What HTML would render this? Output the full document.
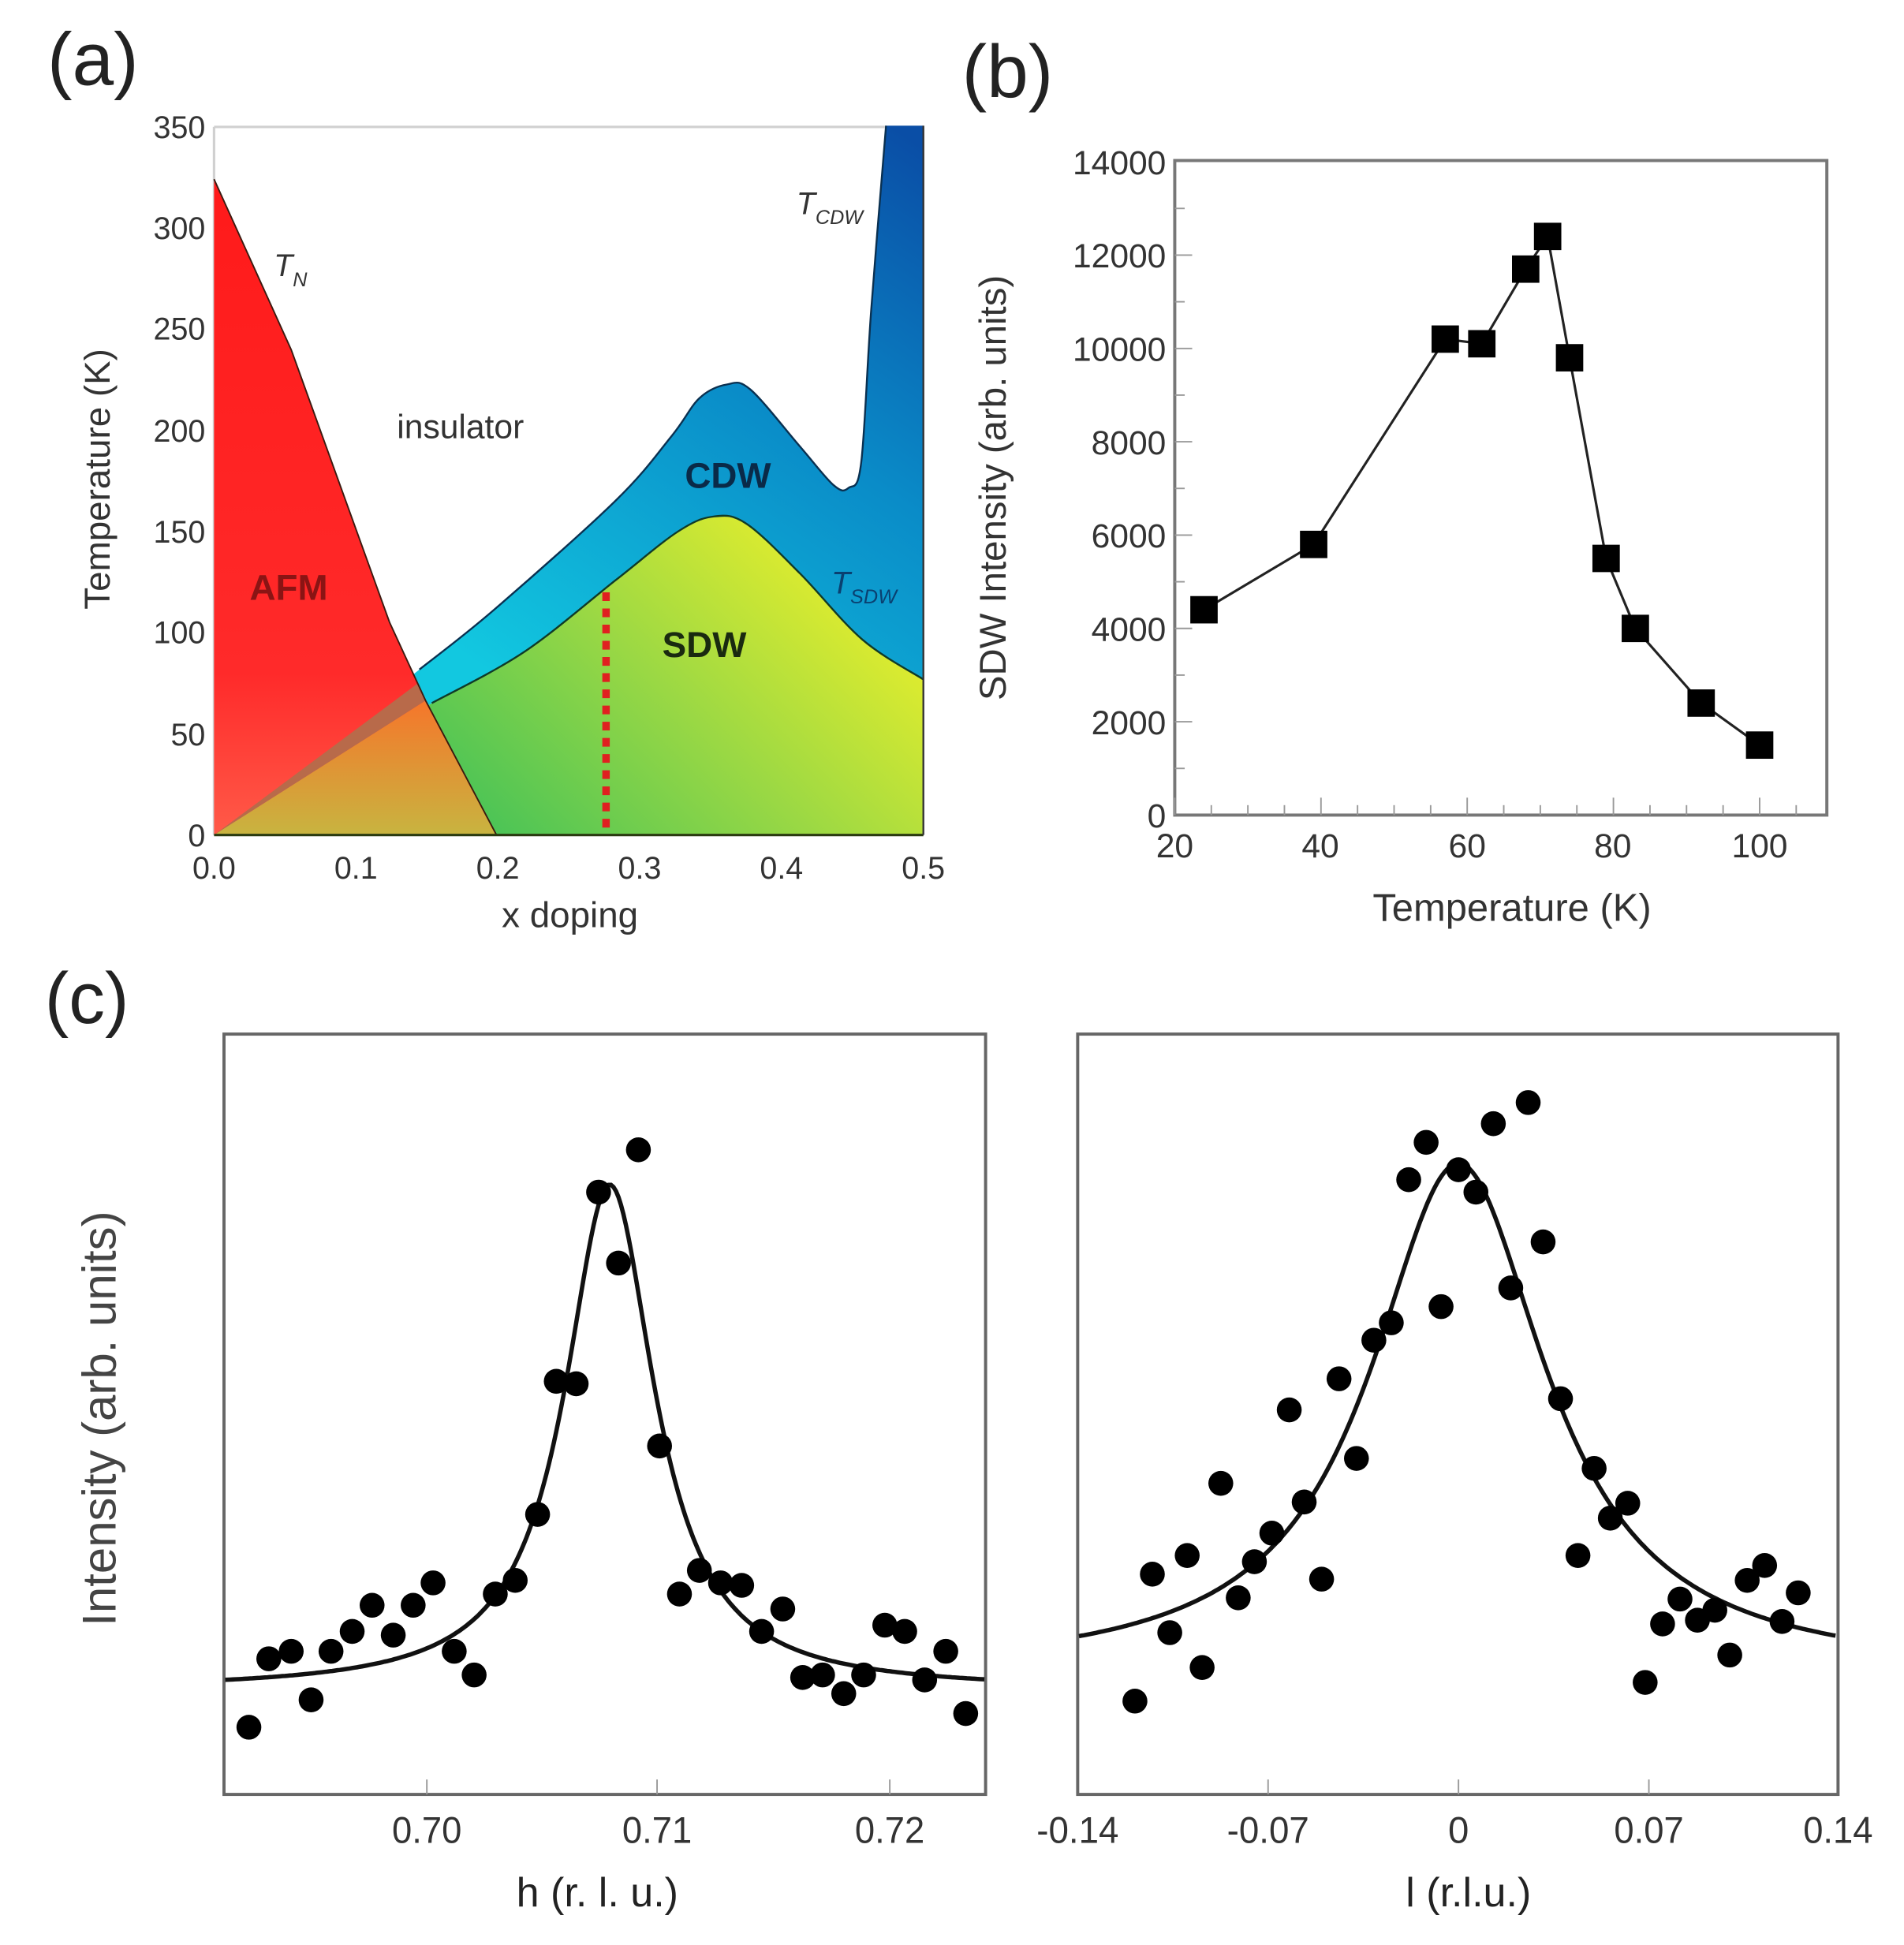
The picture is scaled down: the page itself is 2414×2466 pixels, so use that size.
<!DOCTYPE html>
<html><head><meta charset="utf-8">
<style>html,body{margin:0;padding:0;background:#fff}svg{display:block}</style>
</head><body>
<svg id="s" xmlns="http://www.w3.org/2000/svg" width="2414" height="2466" viewBox="0 0 1530 1563" preserveAspectRatio="none" font-family="Liberation Sans, Arial, sans-serif">
<defs>
<linearGradient id="gG" gradientUnits="userSpaceOnUse" x1="400" y1="671" x2="650" y2="420">
<stop offset="0" stop-color="#4cc456"/><stop offset="0.5" stop-color="#9ad844"/><stop offset="1" stop-color="#e6ee2c"/></linearGradient>
<linearGradient id="gB" gradientUnits="userSpaceOnUse" x1="730" y1="110" x2="420" y2="560">
<stop offset="0" stop-color="#0a4ea6"/><stop offset="0.45" stop-color="#0a8cc8"/><stop offset="1" stop-color="#12c8e0"/></linearGradient>
<linearGradient id="gR" gradientUnits="userSpaceOnUse" x1="0" y1="150" x2="0" y2="671">
<stop offset="0" stop-color="#ff1a1a"/><stop offset="0.75" stop-color="#ff2a2a"/><stop offset="1" stop-color="#ff5a48"/></linearGradient>
<linearGradient id="gO" gradientUnits="userSpaceOnUse" x1="0" y1="560" x2="0" y2="671">
<stop offset="0" stop-color="#f7742a"/><stop offset="1" stop-color="#c8b440"/></linearGradient>
</defs>
<rect width="1530" height="1563" fill="#fff"/>

<!-- Panel a -->
<text x="38" y="68" font-size="60" fill="#222">(a)</text>
<polyline points="172,102 742,102" stroke="#d0d0d0" stroke-width="2" fill="none"/>
<line x1="172" y1="102" x2="172" y2="671" stroke="#d0d0d0" stroke-width="2"/>
<path id="pG" fill="url(#gG)"/>
<path id="pB" fill="url(#gB)"/>
<polygon fill="url(#gR)" points="172,144 234,281 313,500 342,563 399,671 172,671"/>
<polygon fill="#b86a4a" points="172,671 336,549 342,563"/>
<polygon fill="url(#gO)" points="172,671 342,563 399,671"/>
<polyline fill="none" stroke="#3a1a10" stroke-width="1.2" points="172,144 234,281 313,500 342,563 399,671"/>
<path id="lC" fill="none" stroke="#0a3050" stroke-width="1.5"/>
<path id="lS" fill="none" stroke="#103a28" stroke-width="1.5"/>
<line x1="172" y1="671" x2="742" y2="671" stroke="#2a3a10" stroke-width="2"/>
<line x1="742" y1="101" x2="742" y2="671" stroke="#333" stroke-width="1.5"/>
<line x1="487" y1="476" x2="487" y2="671" stroke="#e02020" stroke-width="6" stroke-dasharray="7,6"/>
<g font-size="25" fill="#333" text-anchor="end">
<text x="165" y="680">0</text><text x="165" y="599">50</text><text x="165" y="517">100</text><text x="165" y="436">150</text><text x="165" y="355">200</text><text x="165" y="273">250</text><text x="165" y="192">300</text><text x="165" y="111">350</text>
</g>
<g font-size="25" fill="#333" text-anchor="middle">
<text x="172" y="706">0.0</text><text x="286" y="706">0.1</text><text x="400" y="706">0.2</text><text x="514" y="706">0.3</text><text x="628" y="706">0.4</text><text x="742" y="706">0.5</text>
</g>
<text x="458" y="745" font-size="29" fill="#333" text-anchor="middle">x doping</text>
<text transform="translate(88,385) rotate(-90)" font-size="29" fill="#333" text-anchor="middle">Temperature (K)</text>
<text x="220" y="222" font-size="25" font-style="italic" fill="#333">T<tspan font-size="16" dy="8">N</tspan></text>
<text x="370" y="352" font-size="27" fill="#333" text-anchor="middle">insulator</text>
<text x="232" y="482" font-size="29" font-weight="bold" fill="#8a1414" text-anchor="middle">AFM</text>
<text x="585" y="392" font-size="29" font-weight="bold" fill="#0a2a48" text-anchor="middle">CDW</text>
<text x="566" y="528" font-size="29" font-weight="bold" fill="#1a2a10" text-anchor="middle">SDW</text>
<text x="640" y="172" font-size="25" font-style="italic" fill="#333">T<tspan font-size="16" dy="8">CDW</tspan></text>
<text x="668" y="477" font-size="25" font-style="italic" fill="#0a4070">T<tspan font-size="16" dy="8">SDW</tspan></text>

<!-- Panel b -->
<text x="773" y="78" font-size="60" fill="#222">(b)</text>
<rect x="944" y="129" width="524" height="526" fill="none" stroke="#777" stroke-width="2.5"/>
<g id="bt" stroke="#999" stroke-width="1.2"></g>
<g font-size="27" fill="#333" text-anchor="end">
<text x="937" y="665">0</text><text x="937" y="590">2000</text><text x="937" y="515">4000</text><text x="937" y="440">6000</text><text x="937" y="365">8000</text><text x="937" y="290">10000</text><text x="937" y="215">12000</text><text x="937" y="140">14000</text>
</g>
<g font-size="27" fill="#333" text-anchor="middle">
<text x="944" y="689">20</text><text x="1061" y="689">40</text><text x="1179" y="689">60</text><text x="1296" y="689">80</text><text x="1414" y="689">100</text>
</g>
<text x="1215" y="740" font-size="31" fill="#333" text-anchor="middle">Temperature (K)</text>
<text transform="translate(808,392) rotate(-90)" font-size="30" fill="#333" text-anchor="middle">SDW Intensity (arb. units)</text>
<g id="bd"></g>

<!-- Panel c -->
<text x="36" y="822" font-size="58" fill="#222">(c)</text>
<rect x="180" y="831" width="612" height="611" fill="none" stroke="#666" stroke-width="2.5"/>
<rect x="866" y="831" width="611" height="611" fill="none" stroke="#666" stroke-width="2.5"/>
<g stroke="#999" stroke-width="1.2">
<line x1="343" y1="1442" x2="343" y2="1430"/><line x1="528" y1="1442" x2="528" y2="1430"/><line x1="715" y1="1442" x2="715" y2="1430"/>
<line x1="1019" y1="1442" x2="1019" y2="1430"/><line x1="1172" y1="1442" x2="1172" y2="1430"/><line x1="1325" y1="1442" x2="1325" y2="1430"/>
</g>
<g font-size="30" fill="#333" text-anchor="middle">
<text x="343" y="1481" textLength="56" lengthAdjust="spacingAndGlyphs">0.70</text><text x="528" y="1481" textLength="56" lengthAdjust="spacingAndGlyphs">0.71</text><text x="715" y="1481" textLength="56" lengthAdjust="spacingAndGlyphs">0.72</text>
<text x="866" y="1481" textLength="66" lengthAdjust="spacingAndGlyphs">-0.14</text><text x="1019" y="1481" textLength="66" lengthAdjust="spacingAndGlyphs">-0.07</text><text x="1172" y="1481">0</text><text x="1325" y="1481" textLength="56" lengthAdjust="spacingAndGlyphs">0.07</text><text x="1477" y="1481" textLength="56" lengthAdjust="spacingAndGlyphs">0.14</text>
</g>
<text x="480" y="1532" font-size="33" fill="#222" text-anchor="middle">h (r. l. u.)</text>
<text x="1180" y="1532" font-size="33" fill="#222" text-anchor="middle">l (r.l.u.)</text>
<text transform="translate(93,1140) rotate(-90)" font-size="38" fill="#444" text-anchor="middle">Intensity (arb. units)</text>
<path id="c1" fill="none" stroke="#111" stroke-width="3.5"/>
<path id="c2" fill="none" stroke="#111" stroke-width="3.5"/>
<g id="cd" fill="#000"></g>
</svg>
<script>
var NS="http://www.w3.org/2000/svg";
function el(t,a,p){var e=document.createElementNS(NS,t);for(var k in a)e.setAttribute(k,a[k]);document.getElementById(p).appendChild(e);return e;}
function cr(P){var d='';for(var i=0;i<P.length-1;i++){var p0=P[Math.max(0,i-1)],p1=P[i],p2=P[i+1],p3=P[Math.min(P.length-1,i+2)];
 var c1=[p1[0]+(p2[0]-p0[0])/6,p1[1]+(p2[1]-p0[1])/6],c2=[p2[0]-(p3[0]-p1[0])/6,p2[1]-(p3[1]-p1[1])/6];
 d+=' C'+c1.join(',')+' '+c2.join(',')+' '+p2.join(',');}return d;}
var C=[[337,538],[397,490],[495,402],[540,350],[562,320],[584,309],[603,313],[643,359],[670,390],[682,392],[692,372],[700,250],[712,101]];
var S=[[347,565],[421,524],[495,466],[545,427],[574,415],[600,421],[643,461],[693,514],[742,546]];
var Sr=S.slice().reverse();
document.getElementById('pG').setAttribute('d','M172,671 L347,565'+cr(S)+' L742,671 Z');
document.getElementById('pB').setAttribute('d','M172,671 L337,538'+cr(C)+' L742,101 L742,546'+cr(Sr)+' Z');
document.getElementById('lC').setAttribute('d','M337,538'+cr(C));
document.getElementById('lS').setAttribute('d','M347,565'+cr(S));
for(var T=20;T<=105;T+=5){var x=944+(T-20)*117.5/20;var L=(T%20==0)?14:8;el('line',{x1:x,y1:655,x2:x,y2:655-L},'bt');}
for(var v=1000;v<14000;v+=1000){var y=655-v*75/2000;var L=(v%2000==0)?14:8;el('line',{x1:944,y1:y,x2:944+L,y2:y},'bt');}
var bd=[[24,4400],[39,5800],[57,10200],[62,10100],[68,11700],[71,12400],[74,9800],[79,5500],[83,4000],[92,2400],[100,1500]];
var pts=bd.map(function(p){return [944+(p[0]-20)*117.5/20,655-p[1]*75/2000];});
el('polyline',{points:pts.map(function(p){return p.join(',')}).join(' '),fill:'none',stroke:'#222','stroke-width':2},'bd');
pts.forEach(function(p){el('rect',{x:p[0]-11,y:p[1]-11,width:22,height:22,fill:'#000'},'bd');});
function lor(x0,xe0,xe1,base,A,g){var d='';for(var x=xe0;x<=xe1;x+=2){var y=base-A/(1+Math.pow((x-x0)/g,2));d+=(d?'L':'M')+x.toFixed(1)+','+y.toFixed(1);}return d;}
document.getElementById('c1').setAttribute('d',lor(490,181,791,1358,406,44));
document.getElementById('c2').setAttribute('d',lor(1172,867,1476,1345,410,86));
var dots=[[200,1388],[216,1333],[234,1327],[250,1366],[266,1327],[283,1311],[299,1290],[316,1314],[332,1290],[348,1272],[365,1327],[381,1346],[398,1281],[414,1270],[432,1217],[447,1110],[463,1112],[481,958],[497,1015],[513,924],[530,1162],[546,1281],[562,1262],[579,1272],[596,1274],[612,1311],[629,1293],[645,1348],[661,1346],[678,1361],[694,1346],[711,1306],[727,1311],[743,1350],[760,1327],[776,1377],
[912,1367],[926,1265],[940,1312],[954,1250],[966,1340],[981,1192],[995,1284],[1008,1255],[1022,1232],[1036,1133],[1048,1207],[1062,1269],[1076,1108],[1090,1172],[1104,1077],[1118,1063],[1132,948],[1146,918],[1158,1050],[1172,940],[1186,958],[1200,903],[1214,1035],[1228,886],[1240,998],[1254,1124],[1268,1250],[1281,1180],[1294,1220],[1308,1208],[1322,1352],[1336,1305],[1350,1285],[1364,1302],[1378,1294],[1390,1330],[1404,1270],[1418,1258],[1432,1303],[1445,1280]];
dots.forEach(function(p){el('circle',{cx:p[0],cy:p[1],r:10},'cd');});
</script>
</body></html>
